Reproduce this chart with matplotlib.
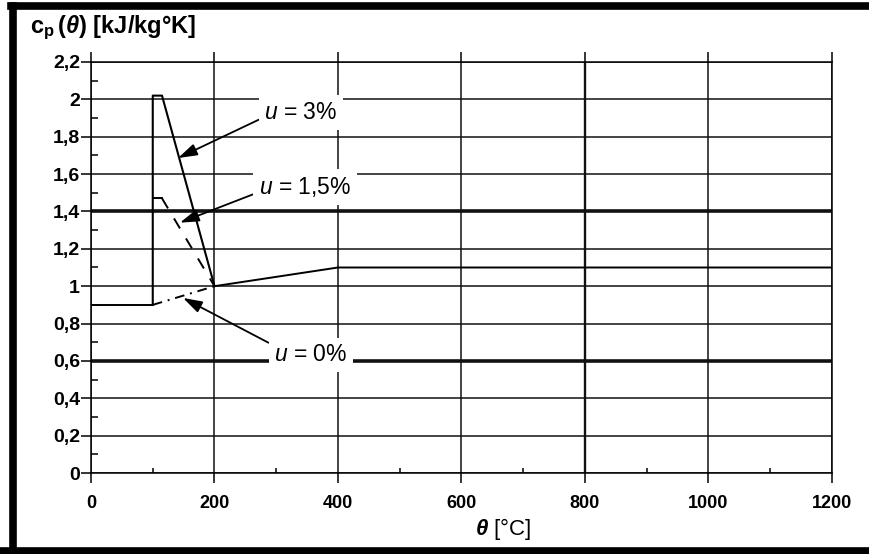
import matplotlib
matplotlib.use("Agg")
import matplotlib.pyplot as plt
from matplotlib.lines import Line2D

plt.rcParams['font.family'] = ['Liberation Sans', 'DejaVu Sans']
plt.rcParams['mathtext.fontset'] = 'custom'
plt.rcParams['mathtext.rm'] = 'Liberation Sans'
plt.rcParams['mathtext.it'] = 'Liberation Sans:italic'
plt.rcParams['mathtext.bf'] = 'Liberation Sans:bold'
plt.rcParams['mathtext.bfit'] = 'Liberation Sans:italic:bold'

# axis scales
x_ticks = [0, 200, 400, 600, 800, 1000, 1200]
x_minor = [100, 300, 500, 700, 900, 1100]
y_ticks = [0, 0.2, 0.4, 0.6, 0.8, 1.0, 1.2, 1.4, 1.6, 1.8, 2.0, 2.2]
y_tick_labels = ['0', '0,2', '0,4', '0,6', '0,8', '1', '1,2', '1,4', '1,6', '1,8', '2', '2,2']
y_minor = [0.1, 0.3, 0.5, 0.7, 0.9, 1.1, 1.3, 1.5, 1.7, 1.9, 2.1]

# specific heat curves, theta [C] vs cp [kJ/kgK]
dry_temp = [0, 100]
dry_cp = [0.9, 0.9]
dry_ramp_temp = [100, 200]
dry_ramp_cp = [0.9, 1.0]
dry_high_temp = [200, 400, 1200]
dry_high_cp = [1.0, 1.1, 1.1]
wet3_temp = [100, 100, 115, 200]
wet3_cp = [0.9, 2.02, 2.02, 1.0]
wet15_top_temp = [100, 115]
wet15_top_cp = [1.47, 1.47]
wet15_fall_temp = [115, 200]
wet15_fall_cp = [1.47, 1.0]

fig = plt.figure(figsize=(8.7, 5.54), dpi=100)
ax = fig.add_axes([0.1046, 0.1462, 0.8517, 0.7419])
ax.set_xlim(0, 1200)
ax.set_ylim(0, 2.2)

ax.set_xticks(x_ticks)
ax.set_xticks(x_minor, minor=True)
ax.set_yticks(y_ticks, y_tick_labels)
ax.set_yticks(y_minor, minor=True)
ax.set_axisbelow(True)
ax.grid(True, which='major', color='#111111', lw=1.1)

# heavier grid lines, as in the scanned original
for gl, val in zip(ax.get_ygridlines(), y_ticks):
    if val in (0.6, 1.4):
        gl.set_linewidth(2.6)
for gl, val in zip(ax.get_xgridlines(), x_ticks):
    if val == 800:
        gl.set_linewidth(1.7)

ax.tick_params(axis='both', which='major', direction='out', length=7, width=1.1)
ax.tick_params(axis='x', which='major', pad=9, top=True, labelsize=13)
ax.tick_params(axis='y', which='major', pad=1, labelsize=14)
ax.tick_params(axis='both', which='minor', direction='in', length=5, width=1.1)
ax.tick_params(axis='x', which='minor', length=3.5)
for lab in ax.get_xticklabels() + ax.get_yticklabels():
    lab.set_fontweight('bold')
for sp in ax.spines.values():
    sp.set_linewidth(1.1)

# curves
ax.plot(dry_temp, dry_cp, color='black', lw=1.4)
ax.plot(dry_ramp_temp, dry_ramp_cp, color='black', lw=1.4, linestyle=(0, (5, 3, 1, 3)))
ax.plot(dry_high_temp, dry_high_cp, color='black', lw=1.4)
ax.plot(wet3_temp, wet3_cp, color='black', lw=1.5)
ax.plot(wet15_top_temp, wet15_top_cp, color='black', lw=1.4)
ax.plot(wet15_fall_temp, wet15_fall_cp, color='black', lw=1.4, linestyle=(0, (6, 6)))

arrow = dict(arrowstyle='-|>,head_length=0.7,head_width=0.22', lw=1.3, color='black',
             shrinkA=0, shrinkB=0)
box = dict(boxstyle='square,pad=0.25', fc='white', ec='none')

ax.annotate('$u$ = 3%', xy=(141, 1.686), xytext=(340, 1.93), ha='center', va='center',
            fontsize=16.5, bbox=box, arrowprops=dict(arrow, relpos=(0, 0.3)), zorder=5)
ax.annotate('$u$ = 1,5%', xy=(144, 1.34), xytext=(347, 1.53), ha='center', va='center',
            fontsize=16.5, bbox=box, arrowprops=dict(arrow, relpos=(0, 0.3)), zorder=5)
ax.annotate('$u$ = 0%', xy=(149, 0.937), xytext=(356, 0.632), ha='center', va='center',
            fontsize=16.5, bbox=box, arrowprops=dict(arrow, relpos=(0, 0.9)), zorder=5)

fig.text(30 / 870, 1 - 28 / 554,
         r'$\mathbf{c}_{\mathbf{p}}\,\mathbf{(}\mathbfit{\theta}\mathbf{)}$ [kJ/kg°K]',
         ha='left', va='center', fontsize=17, fontweight='bold')
fig.text(503 / 870, 1 - 529 / 554, r'$\mathbfit{\theta}$ [°C]', ha='center', va='center',
         fontsize=16)

# scanned page frame
fig.add_artist(Line2D([13.5 / 870] * 2, [0, 0.9883], transform=fig.transFigure,
                      color='black', lw=5.5))
fig.add_artist(Line2D([13.5 / 870 - 0.003, 1], [0.9883] * 2, transform=fig.transFigure,
                      color='black', lw=5.5))
fig.add_artist(Line2D([0, 1], [0.0063] * 2, transform=fig.transFigure,
                      color='black', lw=5.5))

fig.savefig('out.png', dpi=100)
